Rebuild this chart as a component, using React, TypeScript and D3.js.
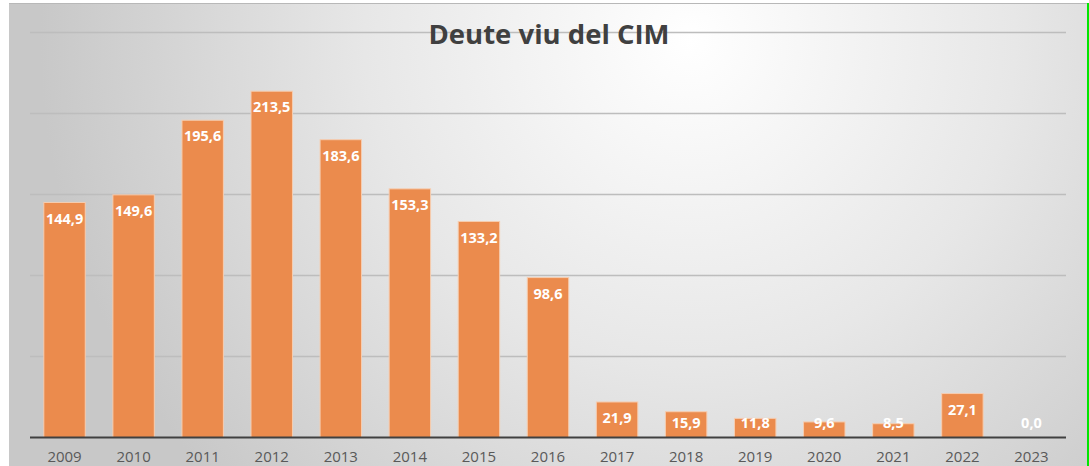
import React from "react";
import * as d3 from "d3";

const years = ["2009","2010","2011","2012","2013","2014","2015","2016","2017","2018","2019","2020","2021","2022","2023"];
const values = [144.9,149.6,195.6,213.5,183.6,153.3,133.2,98.6,21.9,15.9,11.8,9.6,8.5,27.1,0.0];
const gridTicks = [50,100,150,200,250];
const title = "Deute viu del CIM";

const W = 1089, H = 466;
const plot = { left: 30, right: 1066, top: 32, bottom: 437.5 };

export default function App() {
  const x = d3.scaleBand<string>().domain(years).range([plot.left, plot.right]).paddingInner(0.4).paddingOuter(0.2);
  const y = d3.scaleLinear().domain([0, 250]).range([plot.bottom, plot.top]);
  const fmt = (v: number) => v.toFixed(1).replace(".", ",");
  const font = "'Open Sans', 'Liberation Sans', sans-serif";
  return (
    <svg width={W} height={H} style={{ position: "absolute", left: 0, top: 0 }}>
      <defs>
        <radialGradient id="bg" gradientUnits="userSpaceOnUse" cx={690} cy={40} r={650} fx={690} fy={40}>
          <stop offset="0" stopColor="#ffffff" />
          <stop offset="0.5" stopColor="#e7e7e7" />
          <stop offset="1" stopColor="#c8c8c8" />
        </radialGradient>
      </defs>
      <rect x={0} y={0} width={W} height={H} fill="#ffffff" />
      <rect x={9} y={3} width={1078} height={H - 3} fill="url(#bg)" />
      <line x1={9} x2={1087} y1={3.5} y2={3.5} stroke="#b8b8b8" strokeWidth={1} />
      <line x1={1088} x2={1088} y1={3} y2={H} stroke="#00e600" strokeWidth={2} />
      {gridTicks.map((t) => (
        <line key={t} x1={plot.left} x2={plot.right} y1={Math.round(y(t)) + 0.5} y2={Math.round(y(t)) + 0.5} stroke="#bdbdbd" strokeWidth={1.3} />
      ))}
      {years.map((yr, i) => {
        const v = values[i];
        const bx = x(yr)!;
        const top = y(v);
        return (
          <g key={yr}>
            {v > 0 && (
              <rect x={bx} y={top} width={x.bandwidth()} height={plot.bottom - top} fill="#eb8b4d" stroke="#f6cdb0" strokeWidth={1} />
            )}
            <text x={bx + x.bandwidth() / 2} y={Math.min(top + 16, plot.bottom - 15)} dy="0.35em" textAnchor="middle" fill="#ffffff" fontFamily={font} fontWeight="bold" fontSize={14.5}>
              {fmt(v)}
            </text>
            <text x={bx + x.bandwidth() / 2} y={457} dy="0.35em" textAnchor="middle" fill="#595959" fontFamily={font} fontSize={15}>
              {yr}
            </text>
          </g>
        );
      })}
      <line x1={plot.left} x2={plot.right} y1={plot.bottom} y2={plot.bottom} stroke="#404040" strokeWidth={2} />
      <text x={549} y={34} dy="0.35em" textAnchor="middle" fill="#404040" fontFamily={font} fontWeight="bold" fontSize={27.5}>
        {title}
      </text>
    </svg>
  );
}
